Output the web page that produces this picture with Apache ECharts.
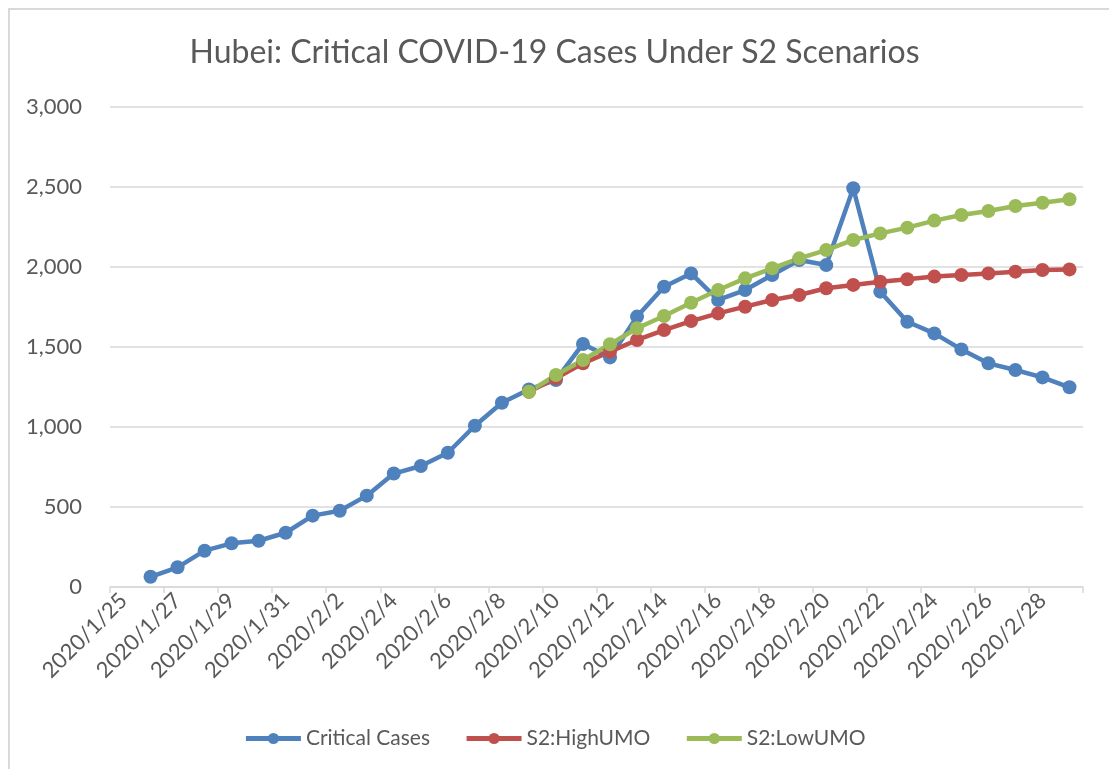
<!DOCTYPE html>
<html>
<head>
<meta charset="utf-8">
<script src="https://cdn.jsdelivr.net/npm/echarts@6/dist/echarts.min.js"></script>
<style>
    html, body { margin: 0; padding: 0; background: #fff; }
    #chart { width: 1109px; height: 769px; }
</style>
</head>
<body>
<div id="chart"></div>
<script>
// categories (one per day, 2020/1/25 .. 2020/2/29)
const dates = [
    '2020/1/25', '2020/1/26', '2020/1/27', '2020/1/28', '2020/1/29', '2020/1/30', '2020/1/31',
    '2020/2/1', '2020/2/2', '2020/2/3', '2020/2/4', '2020/2/5', '2020/2/6', '2020/2/7',
    '2020/2/8', '2020/2/9', '2020/2/10', '2020/2/11', '2020/2/12', '2020/2/13', '2020/2/14',
    '2020/2/15', '2020/2/16', '2020/2/17', '2020/2/18', '2020/2/19', '2020/2/20', '2020/2/21',
    '2020/2/22', '2020/2/23', '2020/2/24', '2020/2/25', '2020/2/26', '2020/2/27', '2020/2/28',
    '2020/2/29'
]

// observed critical cases, 1/25 has no value
const criticalCases = [
    null, 64, 123, 227, 273, 289, 339,
    446, 477, 571, 709, 756, 839, 1008,
    1152, 1235, 1294, 1519, 1435, 1690, 1877,
    1960, 1794, 1856, 1950, 2044, 2012, 2492,
    1846, 1658, 1585, 1485, 1398, 1356, 1310,
    1248
]

// scenarios start on 2/9
const highUMO = [
    null, null, null, null, null, null, null,
    null, null, null, null, null, null, null,
    null, 1220, 1304, 1398, 1471, 1544, 1606,
    1662, 1710, 1752, 1794, 1825, 1867, 1888,
    1908, 1923, 1940, 1950, 1960, 1971, 1981,
    1985
]

const lowUMO = [
    null, null, null, null, null, null, null,
    null, null, null, null, null, null, null,
    null, 1220, 1325, 1419, 1517, 1617, 1694,
    1777, 1856, 1929, 1992, 2054, 2106, 2169,
    2210, 2246, 2290, 2325, 2350, 2381, 2402,
    2423
]

const seriesNames = ['Critical Cases', 'S2:HighUMO', 'S2:LowUMO']
const colorArr = ['#4F81BD', '#C0504D', '#9BBB59']
const valueArr = [criticalCases, highUMO, lowUMO]

const textColor = '#595959'
const gridColor = '#d9d9d9'
const fontFamily = 'Lato, "Open Sans", sans-serif'

let chartInstance = echarts.init(document.getElementById('chart'))

const seriesArr = valueArr.map((item, index) => {
    return {
        name: seriesNames[index],
        type: 'line',
        data: item,
        symbol: 'circle',
        symbolSize: 14,
        showAllSymbol: true,
        connectNulls: false,
        color: colorArr[index],
        lineStyle: { width: 4.5, color: colorArr[index] },
        itemStyle: { color: colorArr[index] },
        emphasis: { disabled: true },
        animation: false
    }
})

const option = {
    backgroundColor: '#fff',
    textStyle: { fontFamily: fontFamily },
    title: {
        text: 'Hubei: Critical COVID-19 Cases Under S2 Scenarios',
        left: 'center',
        top: 32,
        textStyle: {
            color: textColor,
            fontSize: 32,
            fontWeight: 'normal',
            fontFamily: fontFamily
        }
    },
    grid: {
        left: 110,
        right: 26,
        top: 107,
        bottom: 182,
        containLabel: false,
        outerBoundsMode: 'none'
    },
    xAxis: {
        type: 'category',
        data: dates,
        boundaryGap: true,
        axisLine: { lineStyle: { color: gridColor, width: 1.5 } },
        axisTick: {
            show: true,
            interval: 1,
            length: 6,
            lineStyle: { color: gridColor, width: 1.5 }
        },
        axisLabel: {
            interval: 1,
            rotate: 45,
            margin: 10,
            color: textColor,
            fontSize: 22,
            fontFamily: fontFamily
        }
    },
    yAxis: {
        type: 'value',
        min: 0,
        max: 3000,
        interval: 500,
        axisLine: { show: false },
        axisTick: { show: false },
        splitLine: { lineStyle: { color: gridColor, width: 1.5 } },
        axisLabel: {
            margin: 28,
            color: textColor,
            fontSize: 22,
            fontFamily: fontFamily,
            formatter: (v) => v.toLocaleString('en-US')
        }
    },
    legend: {
        data: seriesNames,
        left: 'center',
        top: 723,
        itemWidth: 55,
        itemHeight: 14,
        itemGap: 34,
        lineStyle: { width: 5 },
        textStyle: {
            color: textColor,
            fontSize: 21,
            fontFamily: fontFamily
        }
    },
    graphic: [{
        type: 'polyline',
        silent: true,
        shape: { points: [[9, 769], [9, 9], [1109, 9]] },
        style: { stroke: gridColor, lineWidth: 2, fill: null }
    }],
    series: seriesArr
}

chartInstance.setOption(option)
</script>
</body>
</html>
